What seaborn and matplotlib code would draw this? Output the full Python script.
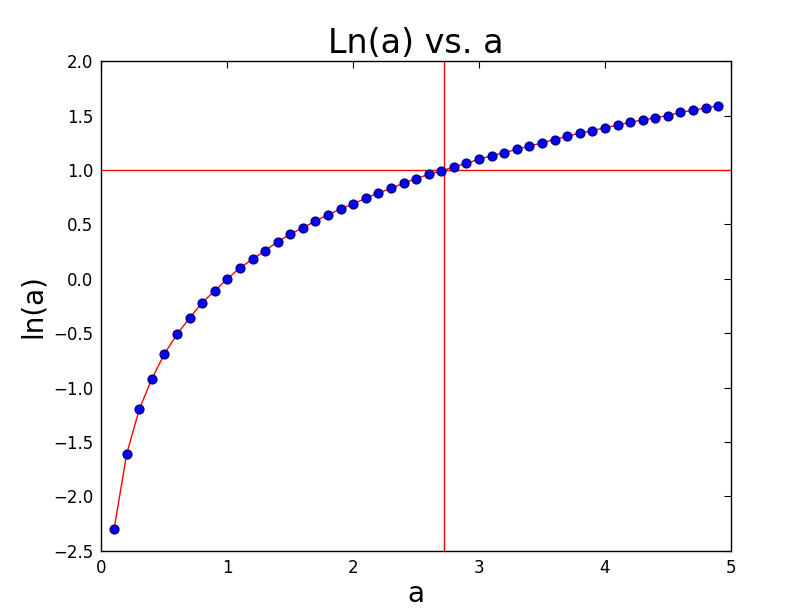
import matplotlib
matplotlib.use("Agg")
import matplotlib.pyplot as plt
import seaborn as sns
import pandas as pd

a_vals = [0.1,0.2,0.3,0.4,0.5,0.6,0.7,0.8,0.9,1.0,1.1,1.2,1.3,1.4,1.5,1.6,1.7,1.8,1.9,2.0,
          2.1,2.2,2.3,2.4,2.5,2.6,2.7,2.8,2.9,3.0,3.1,3.2,3.3,3.4,3.5,3.6,3.7,3.8,3.9,4.0,
          4.1,4.2,4.3,4.4,4.5,4.6,4.7,4.8,4.9]
ln_vals = [-2.30,-1.61,-1.20,-0.92,-0.69,-0.51,-0.36,-0.22,-0.11,0.00,0.10,0.18,0.26,0.34,0.41,
           0.47,0.53,0.59,0.64,0.69,0.74,0.79,0.83,0.88,0.92,0.96,0.99,1.03,1.06,1.10,1.13,1.16,
           1.19,1.22,1.25,1.28,1.31,1.34,1.36,1.39,1.41,1.44,1.46,1.48,1.50,1.53,1.55,1.57,1.59]
e_line = 2.718
h_line = 1.0

df = pd.DataFrame({"a": a_vals, "ln": ln_vals})
sns.set_style("white")
plt.rcParams['font.family'] = ['DejaVu Sans']
plt.rcParams['text.color'] = 'black'
plt.rcParams['axes.labelcolor'] = 'black'
plt.rcParams['xtick.color'] = 'black'
plt.rcParams['ytick.color'] = 'black'
fig = plt.figure(figsize=(8.12, 6.12), dpi=100)
ax = fig.add_axes([0.125, 0.1, 0.775, 0.8])
sns.lineplot(data=df, x="a", y="ln", color="red", lw=1, ax=ax)
sns.scatterplot(data=df, x="a", y="ln", color="blue", edgecolor="#000080", s=40, linewidth=1, ax=ax, zorder=3)
ax.axvline(e_line, color="red", lw=1)
ax.axhline(h_line, color="red", lw=1)
ax.set_xlim(0, 5)
ax.set_ylim(-2.5, 2.0)
ax.set_xticks([0,1,2,3,4,5])
ax.set_yticks([-2.5,-2.0,-1.5,-1.0,-0.5,0.0,0.5,1.0,1.5,2.0])
ax.set_yticklabels(["\u22122.5","\u22122.0","\u22121.5","\u22121.0","\u22120.5","0.0","0.5","1.0","1.5","2.0"])
ax.tick_params(direction="in", top=True, right=True, length=5, labelsize=12, pad=6, colors="black")
for s in ax.spines.values():
    s.set_color("black"); s.set_linewidth(1)
ax.set_title("Ln(a) vs. a", fontsize=24, color="black")
ax.set_xlabel("a", fontsize=20, labelpad=2, color="black")
ax.set_ylabel("ln(a)", fontsize=20, color="black")
fig.savefig("out.png", dpi=100)
